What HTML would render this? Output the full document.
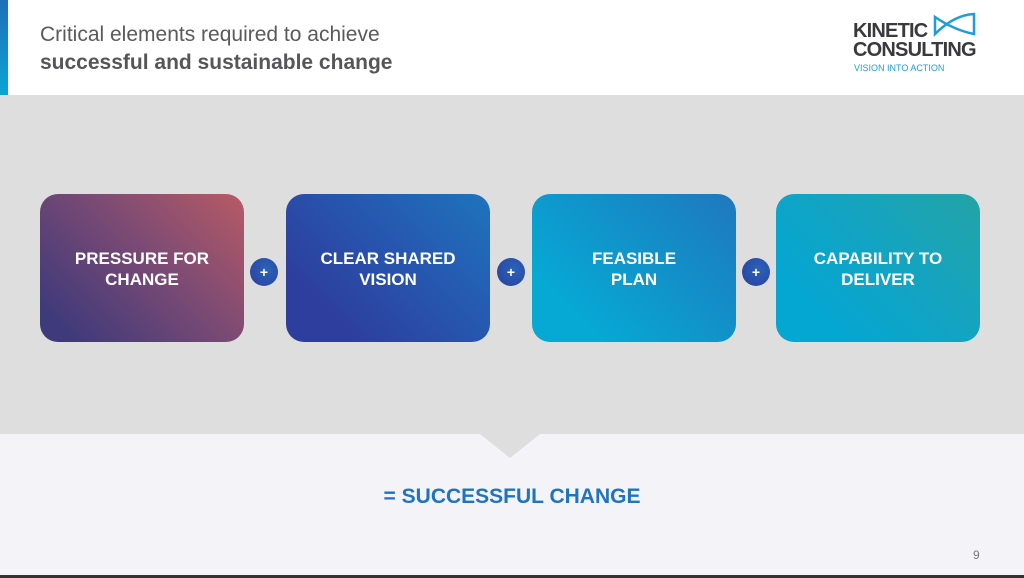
<!DOCTYPE html>
<html><head><style>
*{margin:0;padding:0;box-sizing:border-box}
body{width:1024px;height:578px;overflow:hidden;background:#f3f3f8;font-family:"Liberation Sans",Arial,sans-serif;position:relative}
.hdr{position:absolute;left:0;top:0;width:1024px;height:95px;background:#fff}
.bar{position:absolute;left:0;top:0;width:8px;height:95px;background:linear-gradient(#1f6fb8,#0aa5d3)}
.t1{position:absolute;left:40px;top:23px;font-size:21px;color:#5a5a5e}
.t2{position:absolute;left:40px;top:51px;font-size:21px;font-weight:bold;color:#55555a}
.band{position:absolute;left:0;top:95px;width:1024px;height:339px;background:#dedede}
.tri{position:absolute;left:480px;top:434px;width:0;height:0;border-left:30px solid transparent;border-right:30px solid transparent;border-top:24px solid #dedede}
.box{position:absolute;top:194px;width:204px;height:148px;border-radius:18px;color:#fff;font-weight:bold;font-size:17px;line-height:21px;text-align:center;display:flex;align-items:center;justify-content:center;padding-top:2px}
.plus{position:absolute;top:258px;width:28px;height:28px;border-radius:50%;background:radial-gradient(circle at 60% 40%,#2a63b8,#2a3f9e);color:#fff;font-weight:bold;font-size:14px;text-align:center;line-height:28px}
.res{position:absolute;left:0;width:1024px;top:485px;text-align:center;font-size:21px;font-weight:bold;color:#1f74bd}
.pg{position:absolute;left:973px;top:548px;font-size:12px;color:#777}
.bot{position:absolute;left:0;top:575px;width:1024px;height:3px;background:#333}
</style></head><body>
<div class="hdr"></div><div class="bar"></div>
<div class="t1">Critical elements required to achieve</div>
<div class="t2">successful and sustainable change</div>
<div style="position:absolute;left:853px;top:22px;font-weight:bold;font-size:20px;line-height:19px;color:#3a3a3e;letter-spacing:-0.8px">KINETIC<br>CONSULTING</div>
<div style="position:absolute;left:854px;top:63px;font-size:9px;color:#1d9ed8">VISION INTO ACTION</div>
<svg style="position:absolute;left:932px;top:12px" width="45" height="30"><path d="M3 5 L3 22 Q22 3 42 2 L42 22 Q22 18 3 5 Z" fill="none" stroke="#1d9ed8" stroke-width="2.5"/></svg>
<div class="band"></div><div class="tri"></div>
<div class="box" style="left:40px;background:linear-gradient(45deg,#3f3a7a 10%,#7a4a74 55%,#b85a66)">PRESSURE FOR<br>CHANGE</div>
<div class="box" style="left:286px;background:linear-gradient(45deg,#2e3e9e 20%,#2658b0 60%,#1e74bc)">CLEAR SHARED<br>VISION</div>
<div class="box" style="left:532px;background:linear-gradient(45deg,#06a8d4 20%,#1290c8 60%,#1f78be)">FEASIBLE<br>PLAN</div>
<div class="box" style="left:776px;background:linear-gradient(45deg,#04a6d2 20%,#14a4c0 60%,#24a3a6)">CAPABILITY TO<br>DELIVER</div>
<div class="plus" style="left:250px">+</div>
<div class="plus" style="left:497px">+</div>
<div class="plus" style="left:742px">+</div>
<div class="res">= SUCCESSFUL CHANGE</div>
<div class="pg">9</div>
<div class="bot"></div>
</body></html>
